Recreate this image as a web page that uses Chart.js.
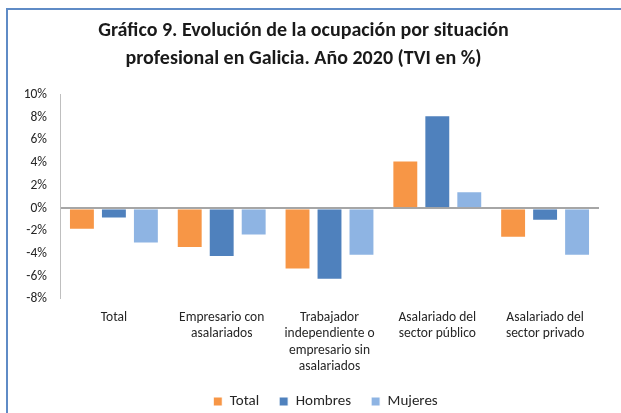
<!DOCTYPE html>
<html>
<head>
<meta charset="utf-8">
<script src="https://cdn.jsdelivr.net/npm/chart.js@4"></script>
<style>
  html, body { margin: 0; padding: 0; background: #fff; }
  #wrap { position: relative; width: 621px; height: 413px; overflow: hidden; }
  #frame { position: absolute; left: 6px; top: 8px; width: 700px; height: 500px;
           border: 2px solid #5f8bc6; box-sizing: border-box; }
  canvas { position: absolute; left: 0; top: 0; }
</style>
</head>
<body>
<div id="wrap">
  <div id="frame"></div>
  <canvas id="ocupacion-chart" width="621" height="413"></canvas>
</div>
<script>
const categories = [
    'Total',
    ['Empresario con', 'asalariados'],
    ['Trabajador', 'independiente o', 'empresario sin', 'asalariados'],
    ['Asalariado del', 'sector público'],
    ['Asalariado del', 'sector privado']
];
const totalValues = [-1.9, -3.5, -5.4, 4.2, -2.6];
const hombresValues = [-0.9, -4.3, -6.3, 8.2, -1.1];
const mujeresValues = [-3.1, -2.4, -4.2, 1.5, -4.2];
const yMin = -8;
const yMax = 10;
const yStep = 2;

const fontFamily = 'Carlito, Calibri, Lato, sans-serif';

// nudge the legend so it sits under the middle of the plot, as in the original
const legendShift = {
    id: 'legendShift',
    afterLayout(chart) {
        chart.legend.left += 22;
        chart.legend.right += 22;
    }
};

const ocupacionCtx = document.getElementById('ocupacion-chart').getContext('2d');

const ocupacionChart = new Chart(ocupacionCtx, {
    type: 'bar',
    data: {
        labels: categories,
        datasets: [{
            label: 'Total',
            data: totalValues,
            backgroundColor: '#F79646',
            borderColor: '#ffffff',
            borderWidth: 1
        }, {
            label: 'Hombres',
            data: hombresValues,
            backgroundColor: '#4F81BD',
            borderColor: '#ffffff',
            borderWidth: 1
        }, {
            label: 'Mujeres',
            data: mujeresValues,
            backgroundColor: '#8EB4E3',
            borderColor: '#ffffff',
            borderWidth: 1
        }]
    },
    options: {
        responsive: false,
        animation: false,
        categoryPercentage: 0.89,
        barPercentage: 0.81,
        layout: { padding: { left: 8, right: 22, bottom: -6 } },
        plugins: {
            title: {
                display: true,
                text: ['Gráfico 9. Evolución de la ocupación por situación',
                       'profesional en Galicia. Año 2020 (TVI en %)'],
                color: '#1a1a1a',
                font: { family: fontFamily, size: 20, weight: 'bold', lineHeight: 1.4 },
                padding: { top: 17, bottom: 21.7 }
            },
            legend: {
                position: 'bottom',
                labels: {
                    color: '#262626',
                    font: { family: fontFamily, size: 15 },
                    boxWidth: 9,
                    boxHeight: 9,
                    padding: 20
                }
            },
            tooltip: { enabled: false }
        },
        scales: {
            x: {
                grid: { display: false, drawTicks: false },
                border: { display: false },
                ticks: {
                    color: '#262626',
                    font: { family: fontFamily, size: 13.5, lineHeight: 1.22 },
                    padding: 10,
                    maxRotation: 0,
                    autoSkip: false
                },
                afterFit: function (scale) { scale.height = 75; }
            },
            y: {
                min: yMin,
                max: yMax,
                ticks: {
                    stepSize: yStep,
                    color: '#262626',
                    font: { family: fontFamily, size: 13.5 },
                    padding: 13,
                    callback: function (v) { return v + '%'; }
                },
                grid: {
                    drawTicks: false,
                    color: function (c) { return c.tick && c.tick.value === 0 ? '#a6a6a6' : 'rgba(0,0,0,0)'; },
                    lineWidth: function (c) { return c.tick && c.tick.value === 0 ? 2 : 0; }
                },
                border: { display: true, color: '#bfbfbf', width: 1 },
                afterFit: function (scale) { scale.width = 52; }
            }
        }
    },
    plugins: [legendShift]
});
</script>
</body>
</html>
